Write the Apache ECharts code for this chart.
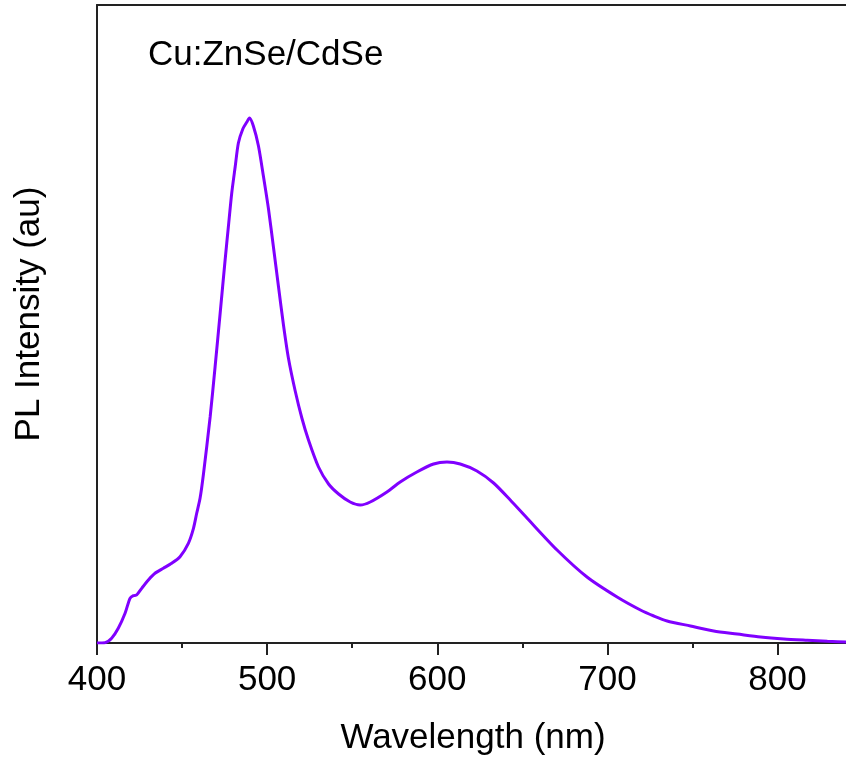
<!DOCTYPE html>
<html>
<head>
<meta charset="utf-8">
<script src="https://cdn.jsdelivr.net/npm/echarts@6/dist/echarts.min.js"></script>
<style>
html,body{margin:0;padding:0;background:#fff;}
#chart{width:846px;height:759px;}
</style>
</head>
<body>
<div id="chart"></div>
<script>
const wavelength = [400,404.7,408.6,412.5,416.5,419.4,421.4,423.3,426.3,430.2,434.1,439,443.9,448.8,453.7,456.7,458.6,460.6,462.5,466.5,469.4,472.4,475.3,477.2,479.2,481.2,483.1,485.7,488.1,489.6,491.9,494.9,497.8,500.8,503.7,506.7,509.6,512.5,516.5,520.4,524.3,530.2,536.1,542,548.8,554.7,560.6,570.4,578.2,588,597.8,605.7,613.5,623.3,633.1,642.9,652.7,670.4,688,705.7,719.4,727.3,735.1,748.8,762.5,776.3,790,803.7,817.5,829.3,842];
const intensity = [0,0.3,4.7,14.7,29.7,44.7,47.3,48,54.7,63,69.7,74.7,79.7,86.3,99.7,114.7,129.7,145,168,226,276,330,383,416,450,476,500,514,521,525,517,497,467,434,396,356,318,285,252,225,203,176,159,149,141,138,141,151,161,171,179,181,179,172,160,143,125,93,66,46,33,27,22,17,12,9,6,4,2.7,1.7,1];
const xTickLabels = [400,500,600,700,800];
const xMinorTicks = [450,550,650,750];
const sampleLabel = 'Cu:ZnSe/CdSe';
const xName = 'Wavelength (nm)';
const yName = 'PL Intensity (au)';

const FONT = 'Liberation Sans, Arial, sans-serif';
const chart = echarts.init(document.getElementById('chart'), null, {renderer:'canvas'});
const points = wavelength.map((w,i)=>[w,intensity[i]]);
const XMAX = 842;
chart.setOption({
  animation:false,
  backgroundColor:'#fff',
  title:{text:sampleLabel,left:148,top:38,padding:0,
    textStyle:{fontFamily:FONT,fontSize:35,fontWeight:'normal',color:'#000'}},
  grid:{left:97,top:5,bottom:116,right:-3,show:false,containLabel:false,outerBoundsMode:'none'},
  xAxis:[{
    type:'value',min:400,max:XMAX,position:'bottom',
    name:xName,nameLocation:'middle',nameGap:78,
    nameTextStyle:{fontFamily:FONT,fontSize:35,color:'#000'},
    axisLine:{show:true,lineStyle:{color:'#222',width:2}},
    axisTick:{show:true,inside:false,length:12,customValues:xTickLabels,lineStyle:{color:'#222',width:2}},
    minorTick:{show:false},
    axisLabel:{show:true,margin:20,fontFamily:FONT,fontSize:35,color:'#000',customValues:xTickLabels},
    splitLine:{show:false}
  },{
    type:'value',min:400,max:XMAX,position:'bottom',
    axisLine:{show:false},
    axisTick:{show:true,inside:false,length:5,customValues:xMinorTicks,lineStyle:{color:'#222',width:2}},
    axisLabel:{show:false},splitLine:{show:false}
  },{
    type:'value',min:400,max:XMAX,position:'top',
    axisLine:{show:true,lineStyle:{color:'#222',width:2}},
    axisTick:{show:false},axisLabel:{show:false},splitLine:{show:false}
  }],
  yAxis:{
    type:'value',min:0,max:638,
    name:yName,nameLocation:'middle',nameGap:50,
    nameTextStyle:{fontFamily:FONT,fontSize:35,color:'#000',padding:[0,0,0,20]},
    axisLine:{show:true,lineStyle:{color:'#222',width:2}},
    axisTick:{show:false},axisLabel:{show:false},splitLine:{show:false}
  },
  series:[{
    type:'line',data:points,xAxisIndex:0,showSymbol:false,
    smooth:0.25,
    lineStyle:{color:'#8000ff',width:3},
    clip:true
  }]
});
</script>
</body>
</html>
